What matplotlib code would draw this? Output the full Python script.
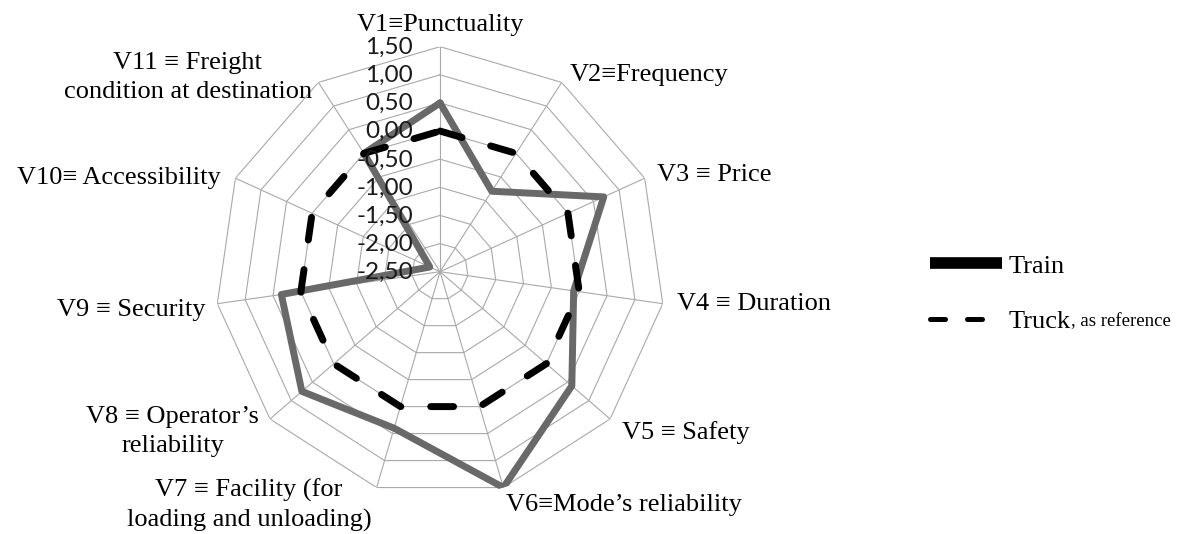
import numpy as np
import matplotlib
matplotlib.use("Agg")
import matplotlib.pyplot as plt
from matplotlib.lines import Line2D

# ---- data ----
categories = [
    "V1\u2261Punctuality",
    "V2\u2261Frequency",
    "V3 \u2261 Price",
    "V4 \u2261 Duration",
    "V5 \u2261 Safety",
    "V6\u2261Mode\u2019s reliability",
    "V7 \u2261 Facility (for\nloading and unloading)",
    "V8 \u2261 Operator\u2019s\nreliability",
    "V9 \u2261 Security",
    "V10\u2261 Accessibility",
    "V11 \u2261 Freight\ncondition at destination",
]
train = [0.5, -0.8, 0.7, -0.1, 0.6, 1.5, 0.4, 0.75, 0.35, -2.3, 0.0]
truck = [0.0, 0.0, 0.0, 0.0, 0.0, 0.0, 0.0, 0.0, 0.0, 0.0, 0.0]
ticks = [-2.5, -2.0, -1.5, -1.0, -0.5, 0.0, 0.5, 1.0, 1.5]
tick_labels = ["-2,50", "-2,00", "-1,50", "-1,00", "-0,50", "0,00", "0,50", "1,00", "1,50"]
series_names = ["Train", "Truck"]

SERIF = ["Liberation Serif", "DejaVu Serif"]
SANS = ["Lato", "DejaVu Sans"]

fig = plt.figure(figsize=(12, 5.34), dpi=100)
ax = fig.add_axes([0.1792, 0.0699, 0.375, 0.8427], polar=True)
ax.set_theta_zero_location("N")
ax.set_theta_direction(-1)
ax.set_ylim(ticks[0], ticks[-1])
ax.grid(False)
ax.spines["polar"].set_visible(False)
ax.set_xticks([])
ax.set_yticks([])
ax.patch.set_alpha(0)

n = len(categories)
angles = np.linspace(0, 2 * np.pi, n, endpoint=False)
closed = np.concatenate([angles, angles[:1]])

grid_col = "#a9a9a9"
# polygon rings
for r in ticks[1:]:
    ax.plot(closed, [r] * (n + 1), color=grid_col, lw=0.8, zorder=1)
# spokes
for a in angles:
    ax.plot([a, a], [ticks[0], ticks[-1]], color=grid_col, lw=0.8, zorder=1)

# series
tr = np.concatenate([train, train[:1]])
tk = np.concatenate([truck, truck[:1]])
ax.plot(closed, tr, color="#696969", lw=5.0, solid_joinstyle="round",
        solid_capstyle="round", zorder=3)
ltk, = ax.plot(closed, tk, color="black", lw=5.0, zorder=4,
               dash_capstyle="round")
ltk.set_dashes((3.3, 4.3))

# tick labels
for r, lab in zip(ticks, tick_labels):
    ax.annotate(lab, xy=(0, r), xytext=(-19.5, -0.5), textcoords="offset points",
                ha="right", va="center", fontsize=17.5, family=SANS,
                color="#1a1a1a", zorder=5)

# category labels: (dx, dy) offset in points, ha, va
label_pos = [
    ((0, 8.0), "center", "bottom"),
    ((6, 5.5), "left", "center"),
    ((9, 2.5), "left", "center"),
    ((10, 0.0), "left", "center"),
    ((8.5, -10), "left", "center"),
    ((2, -12.5), "left", "center"),
    ((-92, -12.5), "center", "center"),
    ((-70, -9), "center", "center"),
    ((-8.5, -4.5), "right", "center"),
    ((-10.5, 0), "right", "center"),
    ((-94, 3.5), "center", "center"),
]
for a, lab, (off, ha, va) in zip(angles, categories, label_pos):
    ax.annotate(lab, xy=(a, ticks[-1]), xytext=off, textcoords="offset points",
                ha=ha, va=va, fontsize=19, family=SERIF, color="black",
                linespacing=1.38, annotation_clip=False)

# legend
h_train = Line2D([], [], color="black", lw=8.4, solid_capstyle="butt")
h_truck = Line2D([], [], color="black", lw=3.6, dash_capstyle="round")
h_truck.set_dashes((3.0, 4.4))
leg = fig.legend([h_train, h_truck], series_names, loc="center left",
                 bbox_to_anchor=(0.7555, 0.45), frameon=False,
                 prop={"family": SERIF, "size": 19}, handlelength=2.72,
                 handletextpad=0.25, labelspacing=1.22)
fig.canvas.draw()
truck_txt = leg.get_texts()[1]
ax.annotate(", as reference", xy=(1, 0), xycoords=truck_txt, xytext=(0, 5.0),
            textcoords="offset points", ha="left", va="baseline",
            fontsize=13.5, family=SERIF, color="black", annotation_clip=False)

fig.savefig("out.png", dpi=100)
